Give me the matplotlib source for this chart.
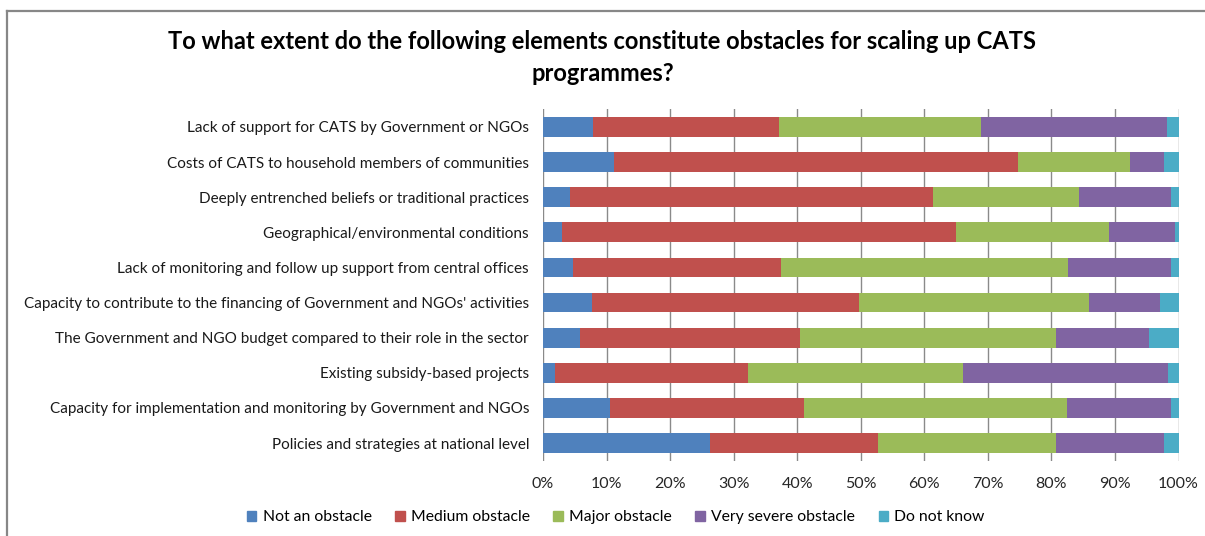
import matplotlib
matplotlib.use("Agg")
import matplotlib.pyplot as plt
from matplotlib.patches import Rectangle
from matplotlib.lines import Line2D
import numpy as np

plt.rcParams['font.family'] = ['Lato', 'DejaVu Sans']

categories = [
    "Lack of support for CATS by Government or NGOs",
    "Costs of CATS to household members of communities",
    "Deeply entrenched beliefs or traditional practices",
    "Geographical/environmental conditions",
    "Lack of monitoring and follow up support from central offices",
    "Capacity to contribute to the financing of Government and NGOs' activities",
    "The Government and NGO budget compared to their role in the sector",
    "Existing subsidy-based projects",
    "Capacity for implementation and monitoring by Government and NGOs",
    "Policies and strategies at national level",
]

series_names = ["Not an obstacle", "Medium obstacle", "Major obstacle",
                "Very severe obstacle", "Do not know"]

not_an_obstacle = [7.9, 11.2, 4.2, 3.0, 4.7, 7.7, 5.8, 1.9, 10.5, 26.3]
medium_obstacle = [29.3, 63.6, 57.2, 62.0, 32.7, 42.0, 34.6, 30.4, 30.5, 26.4]
major_obstacle = [31.7, 17.6, 22.9, 24.0, 45.2, 36.2, 40.3, 33.8, 41.5, 28.0]
very_severe_obstacle = [29.2, 5.3, 14.5, 10.4, 16.2, 11.1, 14.6, 32.2, 16.3, 17.0]
do_not_know = [1.9, 2.3, 1.2, 0.6, 1.2, 3.0, 4.7, 1.7, 1.2, 2.3]

tick_labels = ["0%", "10%", "20%", "30%", "40%", "50%", "60%", "70%", "80%", "90%", "100%"]

colors = ["#4F81BD", "#C0504D", "#9BBB59", "#8064A2", "#4BACC6"]

series = [not_an_obstacle, medium_obstacle, major_obstacle,
          very_severe_obstacle, do_not_know]

fig = plt.figure(figsize=(12.05, 5.36), dpi=100)
ax = fig.add_axes([0.4506, 0.1407, 0.5275, 0.6552])

y = np.arange(len(categories))
left = np.zeros(len(categories))
for name, vals, col in zip(series_names, series, colors):
    vals = np.array(vals, dtype=float)
    ax.barh(y, vals, left=left, height=0.56, color=col, label=name, zorder=3)
    left += vals

ax.set_xlim(0, 100)
ax.set_ylim(len(categories) - 0.5, -0.5)
ax.set_xticks(np.arange(0, 101, 10))
ax.set_xticklabels(tick_labels, fontsize=11.5, color="#262626")
ax.set_yticks(y)
ax.set_yticklabels(categories, fontsize=11, color="#1a1a1a")
ax.tick_params(axis='y', length=0, pad=10)
ax.tick_params(axis='x', length=0, pad=12)
for s in ax.spines.values():
    s.set_visible(False)
ax.grid(axis='x', color="#8a8a8a", linewidth=1.0, zorder=0)
ax.set_axisbelow(True)

fig.text(0.5, 0.922, "To what extent do the following elements constitute obstacles for scaling up CATS",
         ha='center', va='center', fontsize=17, fontweight='bold', color="#000000")
fig.text(0.5, 0.862, "programmes?",
         ha='center', va='center', fontsize=17, fontweight='bold', color="#000000")

handles = [Rectangle((0, 0), 1, 1, color=c) for c in colors]
fig.legend(handles, series_names, loc='center', bbox_to_anchor=(0.511, 0.035),
           ncol=5, frameon=False, fontsize=11.3, handlelength=0.6, handleheight=0.6,
           columnspacing=1.5, handletextpad=0.4)

# chart frame (top and left edges)
fig.add_artist(Line2D([7.5 / 1205, 1.0], [1 - 11 / 536, 1 - 11 / 536],
                      transform=fig.transFigure, color="#878787", linewidth=1.6))
fig.add_artist(Line2D([7.5 / 1205, 7.5 / 1205], [0.0, 1 - 11 / 536],
                      transform=fig.transFigure, color="#878787", linewidth=1.6))

fig.savefig("out.png", dpi=100, facecolor="white")
